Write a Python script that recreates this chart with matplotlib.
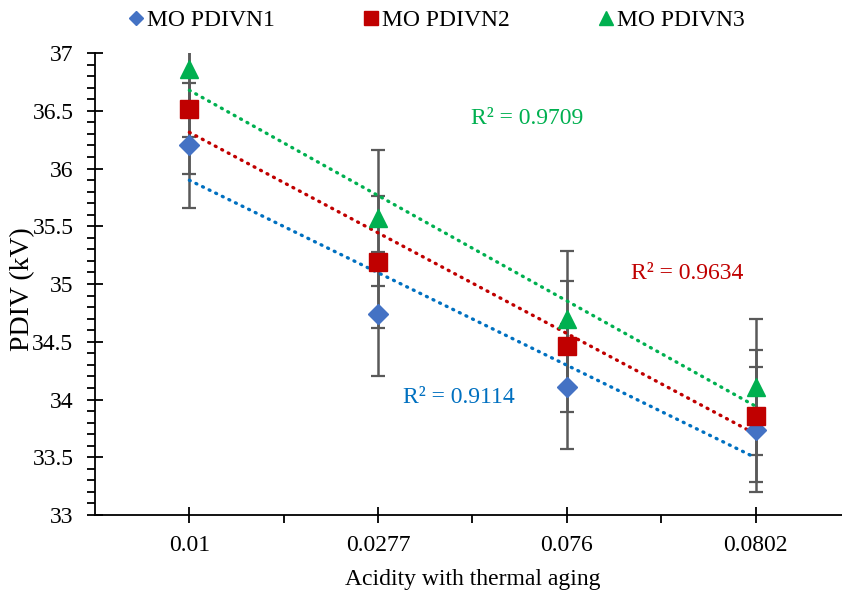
# PDIV vs acidity (thermal aging), three MO PDIVN series with linear trendlines
import numpy as np
import matplotlib
matplotlib.use("Agg")
import matplotlib.pyplot as plt
from matplotlib.ticker import MultipleLocator, FixedLocator, FuncFormatter

plt.rcParams["font.family"] = ["Liberation Serif", "DejaVu Serif"]

categorias = ["0.01", "0.0277", "0.076", "0.0802"]
nomes = ["MO PDIVN1", "MO PDIVN2", "MO PDIVN3"]
pdivn1 = [36.20, 34.74, 34.11, 33.74]
pdivn2 = [36.52, 35.19, 34.46, 33.86]
pdivn3 = [36.86, 35.57, 34.70, 34.11]
erro = [0.54, 0.57, 0.59]
r2_txt = ["R² = 0.9114", "R² = 0.9634", "R² = 0.9709"]

cor_marc = ["#4472C4", "#C00000", "#00B050"]
cor_tend = ["#0070C0", "#C00000", "#00B050"]
marcas = ["D", "s", "^"]
tam = [10, 13, 13]
pos_r2 = [(2.43, 34.02), (3.64, 35.09), (2.79, 36.43)]

fig = plt.figure(figsize=(8.42, 5.93), dpi=100)
ax = fig.add_axes([0.1128, 0.1315, 0.8967, 0.779])

x = np.arange(1, len(categorias) + 1)
series = [pdivn1, pdivn2, pdivn3]
alcas = []
for k, y in enumerate(series):
    ax.errorbar(x, y, yerr=erro[k], fmt="none", ecolor="#595959",
                elinewidth=1.8, capsize=5, capthick=1.6, zorder=2)
    a, b = np.polyfit(x, y, 1)
    ax.plot(x, a * x + b, color=cor_tend[k], lw=2.4,
            linestyle=(0, (0.3, 1.9)), dash_capstyle="round", zorder=3)
    h, = ax.plot(x, y, linestyle="none", marker=marcas[k], ms=tam[k],
                 color=cor_marc[k], mec=cor_marc[k], zorder=4)
    alcas.append(h)
    ax.text(pos_r2[k][0], pos_r2[k][1], r2_txt[k], color=cor_tend[k],
            fontsize=17, ha="center", va="center")

ax.set_xlim(0.5, 4.5)
ax.set_ylim(33, 37)
ax.set_xticks(x)
ax.set_xticklabels(categorias)
ax.xaxis.set_minor_locator(FixedLocator([1.5, 2.5, 3.5, 4.5]))
ax.yaxis.set_major_locator(MultipleLocator(0.5))
ax.yaxis.set_minor_locator(MultipleLocator(0.1))
ax.yaxis.set_major_formatter(FuncFormatter(lambda v, p: "%g" % v))
ax.tick_params(axis="both", which="major", direction="inout", length=11,
               width=1.3, labelsize=17, color="black")
ax.tick_params(axis="both", which="minor", direction="out", length=5.5,
               width=1.3, color="black")
ax.tick_params(axis="x", which="major", pad=9)
ax.tick_params(axis="y", which="major", pad=10)
for s in ("top", "right"):
    ax.spines[s].set_visible(False)
for s in ("left", "bottom"):
    ax.spines[s].set_linewidth(1.3)
ax.set_ylabel("PDIV (kV)", fontsize=20)
ax.yaxis.set_label_coords(-0.079, 0.49)
ax.set_xlabel("Acidity with thermal aging", fontsize=17, labelpad=9)

fig.legend(alcas, nomes, loc="center left", bbox_to_anchor=(0.153, 0.966),
           ncol=3, frameon=False, fontsize=17, handlelength=0.6,
           handletextpad=0.17, columnspacing=3.77, borderaxespad=0,
           borderpad=0, markerscale=0.75)

fig.savefig("out.png", dpi=100)
